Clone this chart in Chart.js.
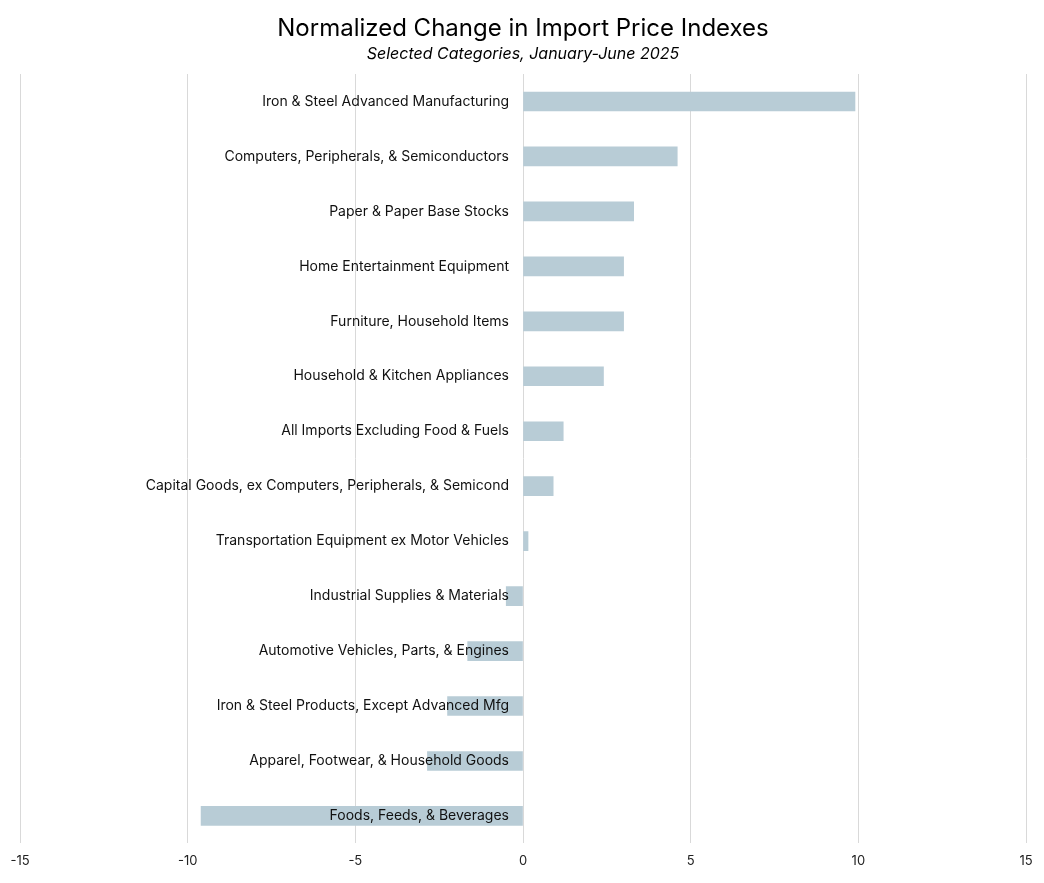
<!DOCTYPE html>
<html>
<head>
<meta charset="utf-8">
<script src="https://cdn.jsdelivr.net/npm/chart.js@4"></script>
<style>
  html, body { margin: 0; padding: 0; background: #fff; }
  #wrap { width: 1044px; height: 883px; }
</style>
</head>
<body>
<div id="wrap"><canvas id="chart"></canvas></div>
<script>
const categories = [
    "Iron & Steel Advanced Manufacturing",
    "Computers, Peripherals, & Semiconductors",
    "Paper & Paper Base Stocks",
    "Home Entertainment Equipment",
    "Furniture, Household Items",
    "Household & Kitchen Appliances",
    "All Imports Excluding Food & Fuels",
    "Capital Goods, ex Computers, Peripherals, & Semicond",
    "Transportation Equipment ex Motor Vehicles",
    "Industrial Supplies & Materials",
    "Automotive Vehicles, Parts, & Engines",
    "Iron & Steel Products, Except Advanced Mfg",
    "Apparel, Footwear, & Household Goods",
    "Foods, Feeds, & Beverages"
];
const changes = [9.9, 4.6, 3.3, 3.0, 3.0, 2.4, 1.2, 0.9, 0.15, -0.5, -1.65, -2.25, -2.85, -9.6];
const xTicks = [-15, -10, -5, 0, 5, 10, 15];

const FONT = "Inter, 'Open Sans', sans-serif";

// category names sit just left of the zero line, over the bars
const labelPlugin = {
    id: "zeroLabels",
    afterDatasetsDraw(chart) {
        const ctx = chart.ctx;
        const x0 = chart.scales.x.getPixelForValue(0);
        const yScale = chart.scales.y;
        ctx.save();
        ctx.font = "14px " + FONT;
        ctx.fillStyle = "#111";
        ctx.textAlign = "right";
        ctx.textBaseline = "middle";
        categories.forEach((c, i) => {
            ctx.fillText(c, x0 - 14, yScale.getPixelForValue(i));
        });
        ctx.restore();
    }
};

new Chart(document.getElementById("chart"), {
    type: "bar",
    data: {
        labels: categories,
        datasets: [{
            data: changes,
            backgroundColor: "#b8ccd6",
            barThickness: 19
        }]
    },
    plugins: [labelPlugin],
    options: {
        indexAxis: "y",
        responsive: true,
        maintainAspectRatio: false,
        animation: false,
        layout: { padding: { left: 20, right: 18, top: 8, bottom: 4 } },
        plugins: {
            legend: { display: false },
            tooltip: { enabled: false },
            title: {
                display: true,
                text: "Normalized Change in Import Price Indexes",
                color: "#000",
                font: { family: FONT, size: 24, weight: "normal" },
                padding: { top: 6, bottom: 2 }
            },
            subtitle: {
                display: true,
                text: "Selected Categories, January-June 2025",
                color: "#000",
                font: { family: FONT, size: 16, style: "italic" },
                padding: { bottom: 10 }
            }
        },
        scales: {
            x: {
                min: -15,
                max: 15,
                afterBuildTicks: axis => { axis.ticks = xTicks.map(v => ({ value: v })); },
                grid: { color: "#d9d9d9", drawTicks: false },
                border: { display: false },
                ticks: { color: "#222", font: { family: FONT, size: 13 }, padding: 10 }
            },
            y: {
                display: false,
                grid: { display: false }
            }
        }
    }
});
</script>
</body>
</html>
